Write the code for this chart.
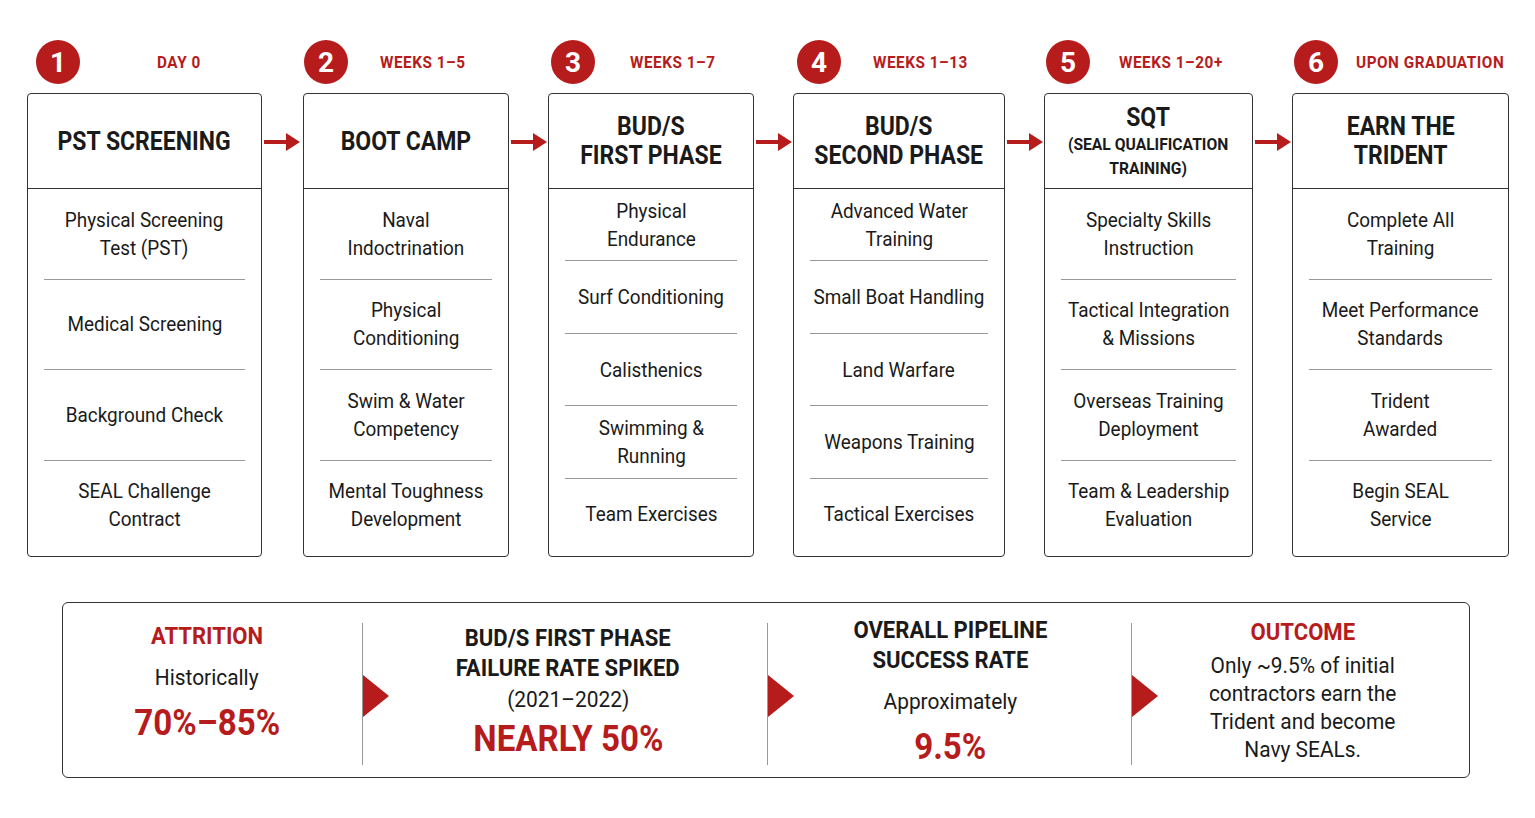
<!DOCTYPE html>
<html><head><meta charset="utf-8">
<script src="https://cdn.jsdelivr.net/npm/chart.js@4"></script>
<style>
body{margin:0;width:1535px;height:818px;background:#fff;font-family:Roboto,"Liberation Sans Narrow",sans-serif;color:#1a1a1a;position:relative;overflow:hidden}
.circ{position:absolute;width:44px;height:44px;border-radius:50%;background:#b71c1c;color:#fff;font:700 28px Roboto;display:flex;align-items:center;justify-content:center;top:40px}
.tm{position:absolute;top:52px;color:#b71c1c;font:700 17px Roboto;letter-spacing:0.6px;transform:scaleX(.9);transform-origin:left}
.box{position:absolute;top:93px;height:464px;border:1.5px solid #333;border-radius:4px;box-sizing:border-box;display:flex;flex-direction:column}
.hd{height:94px;flex:none;border-bottom:1.5px solid #333;display:flex;align-items:center;justify-content:center}
.hd span{font:700 25px Roboto;text-align:center;line-height:29px;transform:scaleX(.92);white-space:nowrap}
.hd small{display:block;font-size:17px;line-height:24px}
.items{flex:1;display:flex;flex-direction:column;padding:0 16px 6px}
.it{flex:1;display:flex;align-items:center;justify-content:center;text-align:center;border-bottom:1px solid #999}
.it span{font-size:21px;line-height:28px;transform:scaleX(.9);white-space:nowrap}
.it:last-child{border-bottom:none}
.arr{position:absolute;top:132px;width:38px;height:20px}
.bot{position:absolute;left:62px;top:602px;width:1408px;height:176px;border:1.5px solid #333;border-radius:6px;box-sizing:border-box}
.col{position:absolute;top:0;height:176px;display:flex;flex-direction:column;align-items:center;justify-content:center;text-align:center;transform:translateX(-50%)}
.red{color:#b71c1c}
.vl{position:absolute;top:20px;height:142px;border-left:1px solid #999}
.tri{position:absolute;top:72px;width:0;height:0;border-top:21px solid transparent;border-bottom:21px solid transparent;border-left:26px solid #b71c1c}
</style></head><body>
<script>
const phaseNums=["1","2","3","4","5","6"];
const phaseTimes=["DAY 0","WEEKS 1–5","WEEKS 1–7","WEEKS 1–13","WEEKS 1–20+","UPON GRADUATION"];
const phaseTitles=["PST SCREENING","BOOT CAMP","BUD/S<br>FIRST PHASE","BUD/S<br>SECOND PHASE","SQT<small>(SEAL QUALIFICATION<br>TRAINING)</small>","EARN THE<br>TRIDENT"];
const phaseItems=[
["Physical Screening<br>Test (PST)","Medical Screening","Background Check","SEAL Challenge<br>Contract"],
["Naval<br>Indoctrination","Physical<br>Conditioning","Swim &amp; Water<br>Competency","Mental Toughness<br>Development"],
["Physical<br>Endurance","Surf Conditioning","Calisthenics","Swimming &amp;<br>Running","Team Exercises"],
["Advanced Water<br>Training","Small Boat Handling","Land Warfare","Weapons Training","Tactical Exercises"],
["Specialty Skills<br>Instruction","Tactical Integration<br>&amp; Missions","Overseas Training<br>Deployment","Team &amp; Leadership<br>Evaluation"],
["Complete All<br>Training","Meet Performance<br>Standards","Trident<br>Awarded","Begin SEAL<br>Service"]];
const statTitles=["ATTRITION","BUD/S FIRST PHASE<br>FAILURE RATE SPIKED","OVERALL PIPELINE<br>SUCCESS RATE","OUTCOME"];
const statSubs=["Historically","(2021–2022)","Approximately",""];
const statValues=["70%–85%","NEARLY 50%","9.5%","Only ~9.5% of initial<br>contractors earn the<br>Trident and become<br>Navy SEALs."];

const L=[27,303,548,793,1044,1292], W=[235,206,206,212,209,217];
const circX=[36,304,551,797,1046,1294], timeX=[157,380,630,873,1119,1356];
let h='';
for(let i=0;i<6;i++){
 h+=`<div class="circ" style="left:${circX[i]}px">${phaseNums[i]}</div>`;
 h+=`<div class="tm" style="left:${timeX[i]}px">${phaseTimes[i]}</div>`;
 h+=`<div class="box" style="left:${L[i]}px;width:${W[i]}px"><div class="hd"><span>${phaseTitles[i]}</span></div><div class="items">${phaseItems[i].map(t=>`<div class="it"><span>${t}</span></div>`).join('')}</div></div>`;
 if(i<5){const x=L[i]+W[i]+2;h+=`<svg class="arr" style="left:${x}px" viewBox="0 0 38 20"><rect x="0" y="8" width="24" height="4" fill="#b71c1c"/><polygon points="22,1 36,10 22,19" fill="#b71c1c"/></svg>`;}
}
const cx=[144,505,887,1240];
let b='<div class="bot">';
for(let i=0;i<4;i++){
 let inner;
 if(i===3) inner=`<div class="red" style="font:700 24px Roboto;transform:scaleX(.92)">${statTitles[i]}</div><div style="font-size:22px;line-height:28px;margin-top:6px;transform:scaleX(.95)">${statValues[i]}</div>`;
 else inner=`<div class="${i===0?'red':''}" style="font:700 24px Roboto;line-height:30px;transform:scaleX(.92)">${statTitles[i]}</div><div style="font-size:22px;margin-top:${i===1?4:14}px;transform:scaleX(.95)">${statSubs[i]}</div><div class="red" style="font:700 36px Roboto;margin-top:${i===1?6:12}px;transform:scaleX(.92)">${statValues[i]}</div>`;
 b+=`<div class="col" style="left:${cx[i]}px;width:330px;${i===0?'padding-bottom:18px;box-sizing:border-box':''}">${inner}</div>`;
}
[299,704,1068].forEach(x=>{b+=`<div class="vl" style="left:${x}px"></div><div class="tri" style="left:${x+1}px"></div>`;});
b+='</div>';
document.body.insertAdjacentHTML('beforeend',h+b);
</script>
</body></html>
